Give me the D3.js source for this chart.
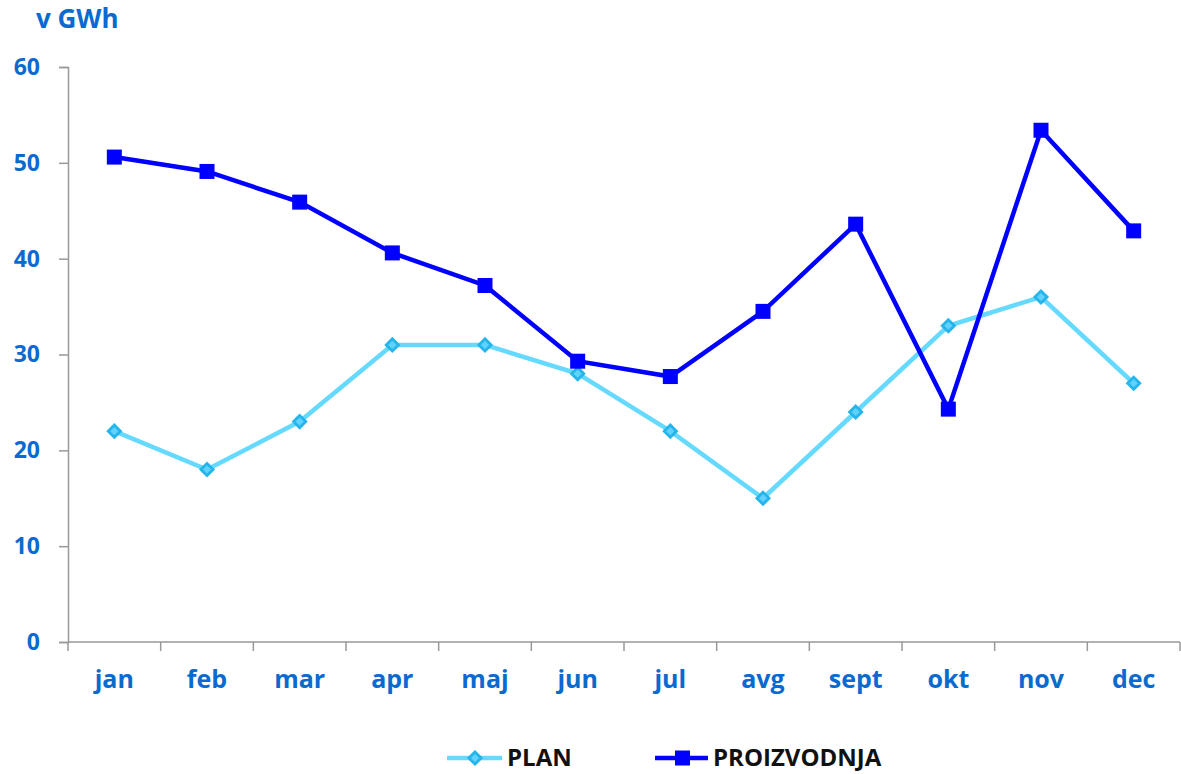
<!DOCTYPE html>
<html>
<head>
<meta charset="utf-8">
<script src="https://cdn.jsdelivr.net/npm/d3@7"></script>
<style>
  body { margin: 0; background: #fff; }
  text { font-family: "Open Sans", "Noto Sans", sans-serif; font-weight: bold; }
</style>
</head>
<body>
<svg id="chart" width="1181" height="774"></svg>
<script>
const months = ["jan", "feb", "mar", "apr", "maj", "jun", "jul", "avg", "sept", "okt", "nov", "dec"];
const plan = [22, 18, 23, 31, 31, 28, 22, 15, 24, 33, 36, 27];
const proizvodnja = [50.6, 49.1, 45.9, 40.6, 37.2, 29.3, 27.7, 34.5, 43.6, 24.3, 53.4, 42.9];
const yTicks = [0, 10, 20, 30, 40, 50, 60];

const svg = d3.select("#chart");
const plotLeft = 68, plotRight = 1180, plotTop = 67, plotBottom = 642;
const blue = "#0a6ad0";

const x = d3.scaleBand().domain(months).range([plotLeft, plotRight]);
const y = d3.scaleLinear().domain([0, 60]).range([plotBottom, plotTop]);

// y axis
const yAxis = svg.append("g")
  .attr("transform", `translate(${plotLeft},0)`)
  .call(d3.axisLeft(y).tickValues(yTicks).tickSize(9).tickPadding(19));
yAxis.select(".domain").attr("stroke", "#999").attr("stroke-width", 1.5);
yAxis.selectAll(".tick line").attr("stroke", "#999").attr("stroke-width", 1.5);
yAxis.selectAll(".tick text").attr("fill", blue).attr("font-size", 23);

// x axis, ticks on band edges
const xAxis = svg.append("g").attr("transform", `translate(0,${plotBottom})`);
xAxis.append("line")
  .attr("x1", plotLeft).attr("x2", plotRight)
  .attr("stroke", "#999").attr("stroke-width", 1.5);
xAxis.selectAll(".edge")
  .data(months.concat(["end"]))
  .join("line")
  .attr("class", "edge")
  .attr("x1", (d, i) => plotLeft + i * x.bandwidth())
  .attr("x2", (d, i) => plotLeft + i * x.bandwidth())
  .attr("y1", 0).attr("y2", 9)
  .attr("stroke", "#999").attr("stroke-width", 1.5);
xAxis.selectAll(".lbl")
  .data(months)
  .join("text")
  .attr("class", "lbl")
  .attr("x", d => x(d) + x.bandwidth() / 2)
  .attr("y", 46)
  .attr("text-anchor", "middle")
  .attr("fill", blue)
  .attr("font-size", 25)
  .text(d => d);

// unit label
svg.append("text")
  .attr("x", 36).attr("y", 28)
  .attr("fill", blue).attr("font-size", 26)
  .text("v GWh");

const cx = d => x(d) + x.bandwidth() / 2;

// PLAN series
const planColor = "#66d9ff";
const seriesLine = d3.line().x((d, i) => cx(months[i])).y(d => y(d));
svg.append("path")
  .datum(plan)
  .attr("d", seriesLine)
  .attr("fill", "none")
  .attr("stroke", planColor)
  .attr("stroke-width", 4.5);

const diamond = d3.symbol().type(d3.symbolDiamond2).size(95);
svg.selectAll(".pm")
  .data(plan)
  .join("path")
  .attr("class", "pm")
  .attr("d", diamond)
  .attr("transform", (d, i) => `translate(${cx(months[i])},${y(d)})`)
  .attr("fill", "#60d2ff")
  .attr("stroke", "#25b5ea")
  .attr("stroke-width", 2.8);

// PROIZVODNJA series
const prodColor = "#0000ff";
svg.append("path")
  .datum(proizvodnja)
  .attr("d", seriesLine)
  .attr("fill", "none")
  .attr("stroke", prodColor)
  .attr("stroke-width", 4.5);

svg.selectAll(".qm")
  .data(proizvodnja)
  .join("rect")
  .attr("class", "qm")
  .attr("x", (d, i) => cx(months[i]) - 7.5)
  .attr("y", d => y(d) - 7.5)
  .attr("width", 15).attr("height", 15)
  .attr("fill", prodColor);

// legend
const legend = svg.append("g").attr("transform", "translate(0,758)");
legend.append("line")
  .attr("x1", 447).attr("x2", 502)
  .attr("stroke", planColor).attr("stroke-width", 4.5);
legend.append("path")
  .attr("d", diamond)
  .attr("transform", "translate(475,0)")
  .attr("fill", "#60d2ff").attr("stroke", "#25b5ea").attr("stroke-width", 2.8);
legend.append("text")
  .attr("x", 507).attr("y", 8)
  .attr("font-size", 24).attr("fill", "#111")
  .text("PLAN");

legend.append("line")
  .attr("x1", 655).attr("x2", 708)
  .attr("stroke", prodColor).attr("stroke-width", 4.5);
legend.append("rect")
  .attr("x", 675).attr("y", -7.5)
  .attr("width", 15).attr("height", 15)
  .attr("fill", prodColor);
legend.append("text")
  .attr("x", 713).attr("y", 8)
  .attr("font-size", 24).attr("fill", "#111")
  .text("PROIZVODNJA");
</script>
</body>
</html>
